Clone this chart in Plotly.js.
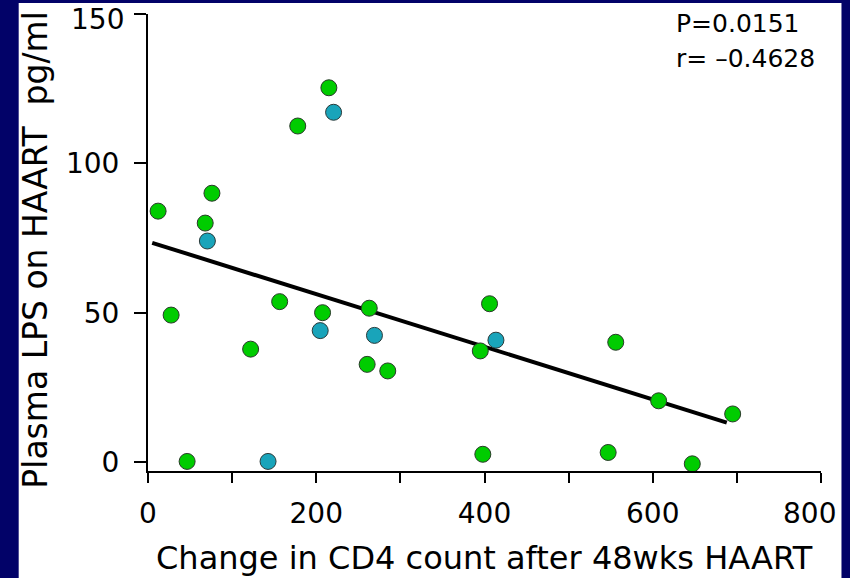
<!DOCTYPE html>
<html>
<head>
<meta charset="utf-8">
<script src="https://cdn.plot.ly/plotly-3.0.1.min.js"></script>
<style>
  html, body { margin: 0; padding: 0; width: 850px; height: 578px; background: #020268; overflow: hidden; }
  #chart { position: absolute; left: 0; top: 0; width: 850px; height: 578px; }
</style>
</head>
<body>
<div id="chart"></div>
<script>
// Group 1 (green)
const greenCD4 = [12, 76, 68, 178, 215, 27.5, 46.5, 156.5, 122, 207.5, 263, 260.5, 285, 406, 395, 556, 607, 695, 398, 547, 647];
const greenLPS = [84, 90, 80, 112.5, 125.3, 49.2, 0.2, 53.7, 37.8, 50.0, 51.5, 32.7, 30.5, 53.0, 37.2, 40.1, 20.5, 16.1, 2.6, 3.2, -0.6];
// Group 2 (teal)
const tealCD4 = [70.6, 220.6, 204.7, 269.2, 142.7, 413.6];
const tealLPS = [74.0, 117.1, 44.0, 42.4, 0.2, 40.8];
// Regression line end points
const fitCD4 = [5, 688];
const fitLPS = [73.4, 13.2];
// Axis ticks (the labels at the two far ends are drawn as annotations, nudged inward as in the original)
const xTicks = [0, 200, 400, 600, 800];
const xTickText = ["0", "200", "400", "600", ""];
const yTicks = [0, 50, 100, 150];
const yTickText = ["0", "50", "100", ""];
const xEndLabel = "800";
const yEndLabel = "150";
const statsText = ["P=0.0151", "r= \u20130.4628"];

const FONT = "DejaVu Sans, Verdana, sans-serif";

const traces = [
  { x: fitCD4, y: fitLPS, mode: "lines", type: "scatter",
    line: { color: "#000000", width: 4 }, hoverinfo: "skip", showlegend: false },
  { x: greenCD4, y: greenLPS, mode: "markers", type: "scatter",
    marker: { size: 16, color: "#00cc00", line: { color: "#2a3a2a", width: 1 } }, showlegend: false },
  { x: tealCD4, y: tealLPS, mode: "markers", type: "scatter",
    marker: { size: 16, color: "#19a4ba", line: { color: "#2a3a3a", width: 1 } }, showlegend: false }
];

const layout = {
  width: 850, height: 578,
  margin: { l: 147.5, r: 28.5, t: 14, b: 107 },
  paper_bgcolor: "#020268",
  plot_bgcolor: "#ffffff",
  showlegend: false,
  shapes: [
    { type: "rect", xref: "paper", yref: "paper", layer: "below",
      x0: -0.19214, x1: 1.03042, y0: -0.25, y1: 1.02407,
      fillcolor: "#ffffff", line: { width: 0 } }
  ],
  xaxis: {
    range: [0, 800], tickvals: xTicks, ticktext: xTickText,
    showline: true, linecolor: "#000", linewidth: 2,
    ticks: "outside", ticklen: 10, tickwidth: 2, tickcolor: "#000",
    minor: { dtick: 100, ticks: "outside", ticklen: 10, tickwidth: 2, tickcolor: "#000", showgrid: false },
    showgrid: false, zeroline: false,
    tickfont: { family: FONT, size: 28, color: "#000" },
    ticklabelstandoff: 6
  },
  yaxis: {
    range: [-3, 150], tickvals: yTicks, ticktext: yTickText,
    showline: true, linecolor: "#000", linewidth: 2,
    ticks: "outside", ticklen: 12, tickwidth: 2, tickcolor: "#000",
    showgrid: false, zeroline: false,
    tickfont: { family: FONT, size: 28, color: "#000" },
    ticklabelstandoff: 9
  },
  annotations: [
    { text: xEndLabel, xref: "x", yref: "paper", x: xTicks[4], y: 0,
      xanchor: "center", yanchor: "top", xshift: -11.5, yshift: -24, showarrow: false,
      font: { family: FONT, size: 28, color: "#000" } },
    { text: yEndLabel, xref: "paper", yref: "y", x: 0, y: yTicks[3],
      xanchor: "right", yanchor: "middle", xshift: -22, yshift: -5, showarrow: false,
      font: { family: FONT, size: 28, color: "#000" } },
    { text: "Change in CD4 count after 48wks HAART", xref: "paper", yref: "paper",
      x: 0.5007, y: -0.1904, xanchor: "center", yanchor: "middle", showarrow: false,
      font: { family: FONT, size: 32, color: "#000" } },
    { text: "Plasma LPS on HAART\u00a0\u00a0pg/ml", xref: "paper", yref: "paper",
      x: -0.1669, y: 0.4836, xanchor: "center", yanchor: "middle", textangle: -90, showarrow: false,
      font: { family: FONT, size: 33, color: "#000" } },
    { text: statsText[0], xref: "paper", yref: "paper",
      x: 0.781, y: 0.98, xanchor: "left", yanchor: "middle", showarrow: false,
      font: { family: FONT, size: 25, color: "#000" } },
    { text: statsText[1], xref: "paper", yref: "paper",
      x: 0.781, y: 0.9035, xanchor: "left", yanchor: "middle", showarrow: false,
      font: { family: FONT, size: 25, color: "#000" } }
  ]
};

Plotly.newPlot("chart", traces, layout, { staticPlot: true, displayModeBar: false });
</script>
</body>
</html>
